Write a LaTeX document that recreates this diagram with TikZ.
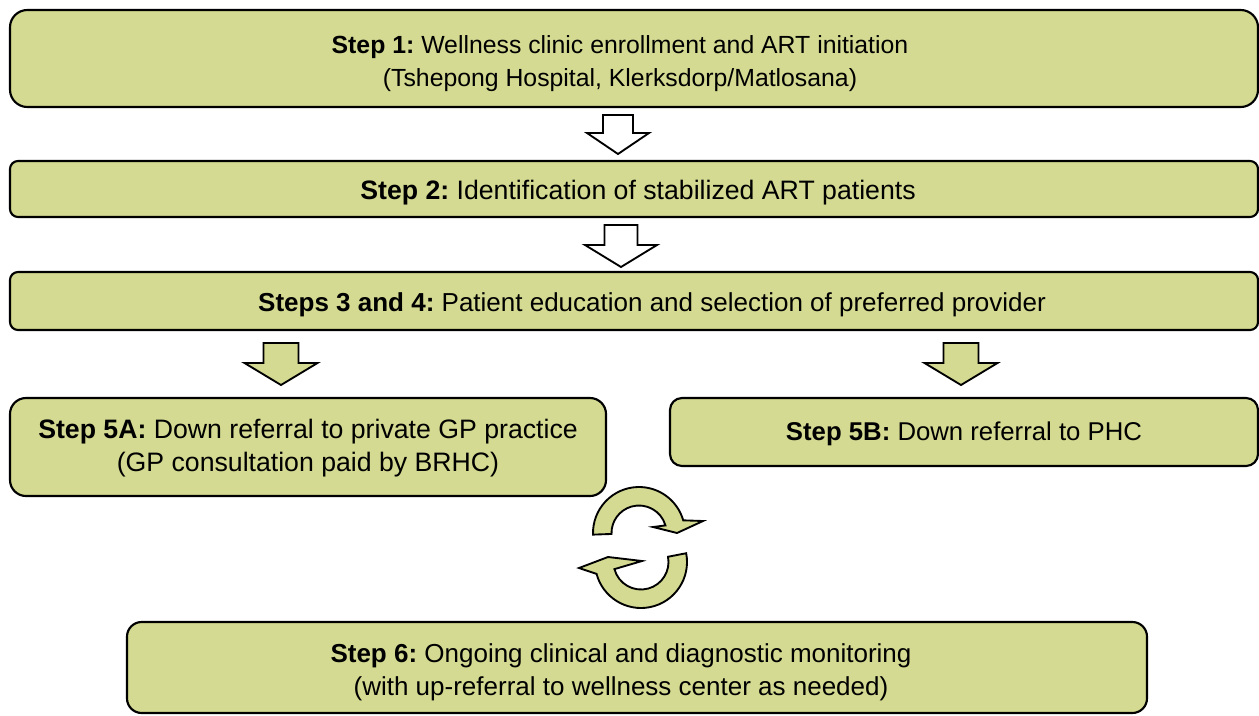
\documentclass[tikz,border=0pt]{standalone}
\usepackage{fontspec}
\setmainfont{Liberation Sans}
\usetikzlibrary{calc}
\frenchspacing
\definecolor{boxgreen}{RGB}{212,218,145}
\tikzset{
  stepbox/.style={draw=black, line width=1.6pt, fill=boxgreen,
    font=\fontsize{19.5pt}{24.5pt}\selectfont, inner sep=0pt},
  fsize/.style={font=\fontsize{#1}{24.5pt}\selectfont},
  blkwhite/.style={draw=black, line width=1.4pt, fill=white, line join=miter},
  blkgreen/.style={draw=black, line width=1.4pt, fill=boxgreen, line join=miter},
  cycarrow/.style={draw=black, line width=1.4pt, fill=boxgreen, line join=miter},
}
% box text: #1 horizontal offset (twice the shift), #2 lowering, #3 lines
\newcommand\bxt[3]{\hspace*{#1}\raisebox{-#2}[\height][\depth]{\begin{tabular}{@{}c@{}}#3\end{tabular}}}
% #1 style, #2 centre x, #3 top y, #4 tip y, #5 shaft half width, #6 head half width, #7 head length
\newcommand\blkarrow[7]{%
  \draw[#1] (#2-#5,#3) -- (#2+#5,#3) -- (#2+#5,#4-#7) -- (#2+#6,#4-#7) -- (#2,#4)
    -- (#2-#6,#4-#7) -- (#2-#5,#4-#7) -- cycle;}
\begin{document}
\begin{tikzpicture}[x=0.75pt,y=-0.75pt]
\useasboundingbox (0,0) rectangle (1259,715);

\node[stepbox, fsize=18.6pt, rounded corners=13pt, minimum width=936pt, minimum height=72.75pt] (b1) at (634,58.5)
  {\bxt{-21pt}{3.5pt}{\textbf{Step 1:} Wellness clinic enrollment and ART initiation\\(Tshepong Hospital, Klerksdorp/Matlosana)}};
\node[stepbox, fsize=20pt, rounded corners=6pt, minimum width=936pt, minimum height=42pt] (b2) at (634,189)
  {\bxt{6pt}{2.6pt}{\textbf{Step 2:} Identification of stabilized ART patients}};
\node[stepbox, rounded corners=6pt, minimum width=936pt, minimum height=43.5pt] (b3) at (634,301)
  {\bxt{27pt}{2.6pt}{\textbf{Steps 3 and 4:} Patient education and selection of preferred provider}};
\node[stepbox, fsize=20pt, rounded corners=12pt, minimum width=447pt, minimum height=73.5pt] (b5a) at (308,447)
  {\bxt{0pt}{1.2pt}{\textbf{Step 5A:} Down referral to private GP practice\\(GP consultation paid by BRHC)}};
\node[stepbox, fsize=19.3pt, rounded corners=9pt, minimum width=441pt, minimum height=51pt] (b5b) at (964,432)
  {\bxt{0pt}{1.5pt}{\textbf{Step 5B:} Down referral to PHC}};
\node[stepbox, rounded corners=11pt, minimum width=765pt, minimum height=68.25pt] (b6) at (637,667.5)
  {\bxt{-24pt}{3.75pt}{\textbf{Step 6:} Ongoing clinical and diagnostic monitoring\\(with up-referral to wellness center as needed)}};

% block arrows
\blkarrow{blkwhite}{618}{115}{154}{15}{31}{21}
\blkarrow{blkwhite}{621}{225}{267}{16.5}{36}{22}
\blkarrow{blkgreen}{281}{343}{385}{17.5}{36.5}{22}
\blkarrow{blkgreen}{961}{343}{385}{17.5}{36.5}{22}

% circular arrows
\draw[cycarrow] (639,533) ++(178:46) arc[start angle=178, end angle=344, radius=46]
  -- (703,521) -- (677,533) -- (653,527)
  -- ($(639,533)+(344:27.5)$) arc[start angle=344, end angle=178, radius=27.5] -- cycle;
\draw[cycarrow] (641,562) ++(-11:46) arc[start angle=-11, end angle=165, radius=46]
  -- (579,568) -- (608,557) -- (642,561)
  -- ($(641,562)+(165:27.5)$) arc[start angle=165, end angle=-11, radius=27.5] -- cycle;
\end{tikzpicture}
\end{document}
